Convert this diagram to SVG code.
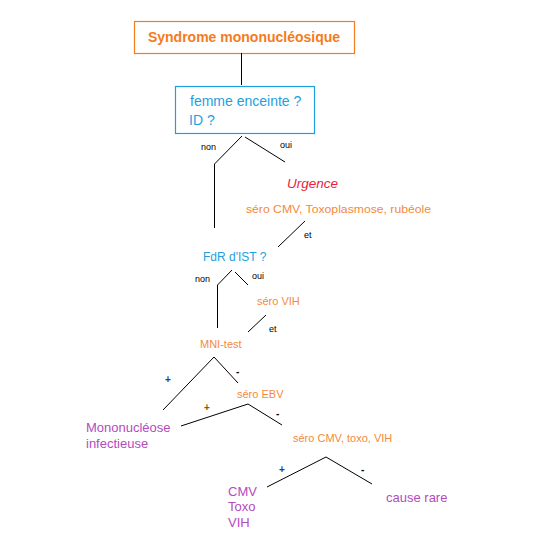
<svg xmlns="http://www.w3.org/2000/svg" width="538" height="536" viewBox="0 0 538 536">
<style>
text{font-family:"Liberation Sans",Arial,sans-serif}
.c{fill:none;stroke:#000;stroke-width:1}
.lbl{font-size:9px;fill:#000}
.sg{font-size:10px;font-weight:bold}
.or{fill:#f5893a;font-size:11px}
.bl{fill:#1ea0e0}
.pu{fill:#b44bbd;font-size:13px}
</style>
<rect width="538" height="536" fill="#fff"/>
<g id="n_title">
<rect x="134.5" y="21.5" width="220" height="32" fill="#fff" stroke="#f47b20" stroke-width="1.2"/>
<text x="244" y="42" text-anchor="middle" font-size="14" font-weight="bold" fill="#f47b20">Syndrome mononucléosique</text>
</g>
<g id="n_q1">
<rect x="175.5" y="86.5" width="139" height="47" fill="#fff" stroke="#1ea0e0" stroke-width="1.2"/>
<text class="bl" x="190" y="106" font-size="14">femme enceinte ?</text>
<text class="bl" x="189" y="125" font-size="14">ID ?</text>
</g>
<g id="n_urg">
<text x="287" y="188" font-size="13.5" font-style="italic" fill="#e8243c">Urgence</text>
<text class="or" x="246" y="213" font-size="11.5" textLength="185" lengthAdjust="spacingAndGlyphs">séro CMV, Toxoplasmose, rubéole</text>
</g>
<g id="n_fdr">
<text class="bl" x="203" y="261" font-size="12">FdR d'IST ?</text>
</g>
<g id="n_vih">
<text class="or" x="257" y="305" font-size="10">séro VIH</text>
</g>
<g id="n_mni">
<text class="or" x="200" y="348" font-size="10">MNI-test</text>
</g>
<g id="n_ebv">
<text class="or" x="237" y="398" font-size="10">séro EBV</text>
</g>
<g id="n_mi">
<text class="pu" x="86" y="432">Mononucléose</text>
<text class="pu" x="86" y="448">infectieuse</text>
</g>
<g id="n_cmv">
<text class="or" x="293" y="442" font-size="10">séro CMV, toxo, VIH</text>
</g>
<g id="n_ctv">
<text class="pu" x="228" y="496">CMV</text>
<text class="pu" x="228" y="511">Toxo</text>
<text class="pu" x="228" y="527">VIH</text>
</g>
<g id="n_rare">
<text class="pu" x="386" y="502" font-size="12">cause rare</text>
</g>
<g id="connectors">
<path class="c" d="M241.5 53V85"/>
<path class="c" d="M242 136L214.5 164V228"/>
<path class="c" d="M245 137L285 162"/>
<path class="c" d="M305 221L278 247"/>
<path class="c" d="M232 270L217.5 285V328"/>
<path class="c" d="M235 272L248 285"/>
<path class="c" d="M266 315L248 332"/>
<path class="c" d="M163 410L214 357L238 383"/>
<path class="c" d="M181 426L248 404L282 425"/>
<path class="c" d="M267 487L326 457L372 484"/>
<text class="lbl" x="201" y="150">non</text>
<text class="lbl" x="280" y="148">oui</text>
<text class="lbl" x="304" y="238">et</text>
<text class="lbl" x="195" y="282">non</text>
<text class="lbl" x="252" y="279">oui</text>
<text class="lbl" x="269" y="332">et</text>
<text class="lbl sg" x="165" y="383" style="fill:#1a3d8f">+</text>
<text class="lbl sg" x="236" y="375">-</text>
<text class="lbl sg" x="204" y="411" style="fill:#8a5a00">+</text>
<text class="lbl sg" x="276" y="417">-</text>
<text class="lbl sg" x="279" y="473" style="fill:#1a3d8f">+</text>
<text class="lbl sg" x="361" y="473">-</text>
</g>
</svg>
